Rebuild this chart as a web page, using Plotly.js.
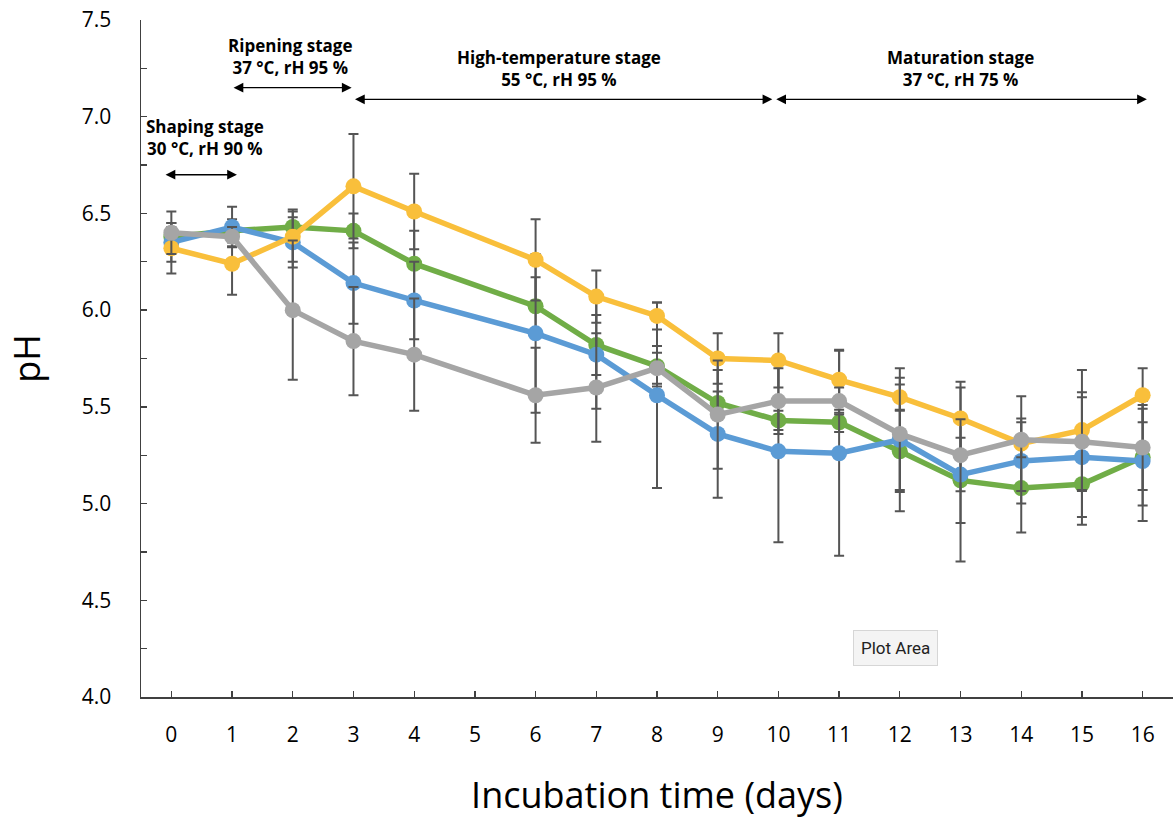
<!DOCTYPE html>
<html>
<head>
<meta charset="utf-8">
<script src="https://cdn.plot.ly/plotly-3.0.1.min.js"></script>
<style>
  html, body { margin: 0; padding: 0; background: #ffffff; }
  #chart { width: 1173px; height: 822px; }
</style>
</head>
<body>
<div id="chart"></div>
<script>
// Incubation days
const days = [0, 1, 2, 3, 4, 6, 7, 8, 9, 10, 11, 12, 13, 14, 15, 16];

// Series values (pH) and standard deviations
const greenPH  = [6.38, 6.41, 6.43, 6.41, 6.24, 6.02, 5.82, 5.71, 5.52, 5.43, 5.42, 5.27, 5.12, 5.08, 5.10, 5.24];
const greenSD  = [0.05, 0.06, 0.09, 0.09, 0.17, 0.15, 0.155, 0.105, 0.06, 0.05, 0.05, 0.21, 0.22, 0.23, 0.21, 0.25];

const bluePH   = [6.35, 6.43, 6.35, 6.14, 6.05, 5.88, 5.77, 5.56, 5.36, 5.27, 5.26, 5.33, 5.15, 5.22, 5.24, 5.22];
const blueSD   = [0.10, 0.105, 0.13, 0.21, 0.20, 0.41, 0.28, 0.48, 0.33, 0.47, 0.53, 0.37, 0.45, 0.22, 0.31, 0.31];

const yellowPH = [6.32, 6.24, 6.38, 6.64, 6.51, 6.26, 6.07, 5.97, 5.75, 5.74, 5.64, 5.55, 5.44, 5.31, 5.38, 5.56];
const yellowSD = [0.13, 0.16, 0.13, 0.27, 0.195, 0.21, 0.135, 0.07, 0.13, 0.14, 0.155, 0.065, 0.19, 0.245, 0.31, 0.14];

const grayPH   = [6.40, 6.38, 6.00, 5.84, 5.77, 5.56, 5.60, 5.70, 5.46, 5.53, 5.53, 5.36, 5.25, 5.33, 5.32, 5.29];
const graySD   = [0.11, 0.05, 0.36, 0.28, 0.29, 0.245, 0.28, 0.08, 0.28, 0.17, 0.07, 0.29, 0.186, 0.09, 0.255, 0.22];

const xTickVals = [0,1,2,3,4,5,6,7,8,9,10,11,12,13,14,15,16];

// Stage annotations
const stageLabels = [
  {text: "Shaping stage<br>30 °C, rH 90 %", x: 0.55, y: 6.89, from: -0.12, to: 1.08, ay: 6.70},
  {text: "Ripening stage<br>37 °C, rH 95 %", x: 1.97, y: 7.31, from: 1.00, to: 2.97, ay: 7.15},
  {text: "High-temperature stage<br>55 °C, rH 95 %", x: 6.38, y: 7.25, from: 3.00, to: 9.90, ay: 7.09},
  {text: "Maturation stage<br>37 °C, rH 75 %", x: 13.0, y: 7.25, from: 9.94, to: 16.07, ay: 7.09}
];

const errColor = '#555555';
function series(y, sd, color, name) {
  return {
    type: 'scatter', mode: 'lines+markers', name: name,
    x: days, y: y,
    line: {color: color, width: 5.5},
    marker: {color: color, size: 16},
    error_y: {type: 'data', array: sd, visible: true, color: errColor, thickness: 2, width: 5},
    cliponaxis: false,
    hoverinfo: 'x+y'
  };
}

const data = [
  series(greenPH, greenSD, '#70AD47', 'Series A'),
  series(bluePH, blueSD, '#5B9BD5', 'Series B'),
  series(yellowPH, yellowSD, '#F9BF3B', 'Series C'),
  series(grayPH, graySD, '#A5A5A5', 'Series D')
];

const labelFont = {family: '"Liberation Sans Narrow", "Open Sans", Arial, sans-serif', size: 17, color: '#000000'};

const annotations = [];
stageLabels.forEach(s => {
  annotations.push({
    x: s.x, y: s.y, xref: 'x', yref: 'y', text: '<b>' + s.text.replace('<br>', '</b><br><b>') + '</b>',
    showarrow: false, font: labelFont, align: 'center'
  });
  annotations.push({
    x: s.to, y: s.ay, ax: s.from, ay: s.ay, xref: 'x', yref: 'y', axref: 'x', ayref: 'y',
    text: '', showarrow: true, arrowhead: 2, startarrowhead: 2, arrowside: 'end+start',
    arrowsize: 1.5, startarrowsize: 1.5, arrowwidth: 1.3, arrowcolor: '#000000'
  });
});
annotations.push({
  x: 11.93, y: 4.253, xref: 'x', yref: 'y', text: 'Plot Area', showarrow: false,
  font: {family: 'Roboto, "Open Sans", Arial, sans-serif', size: 17, color: '#222222'},
  bgcolor: '#f4f4f4', bordercolor: '#d6d6d6', borderwidth: 1, borderpad: 7
});

const layout = {
  width: 1173, height: 822,
  margin: {l: 141, r: 0, t: 20, b: 125},
  paper_bgcolor: '#ffffff', plot_bgcolor: '#ffffff',
  showlegend: false,
  font: {family: '"Open Sans", Arial, sans-serif', color: '#000000'},
  xaxis: {
    range: [-0.5, 16.5], tickmode: 'array', tickvals: xTickVals, ticktext: xTickVals.map(String),
    ticks: 'inside', ticklen: 6, tickwidth: 1.3, tickcolor: '#404040',
    showline: true, linecolor: '#404040', linewidth: 1.5, showgrid: false, zeroline: false,
    tickfont: {family: '"Open Sans", Arial, sans-serif', size: 21, color: '#000000'},
    ticklabelstandoff: 18,
    title: {text: 'Incubation time (days)', font: {family: '"Open Sans", Arial, sans-serif', size: 36, color: '#000000'}, standoff: 36}
  },
  yaxis: {
    range: [4, 7.5], dtick: 0.5, tick0: 4, tickformat: '.1f',
    ticks: 'inside', ticklen: 6, tickwidth: 1.3, tickcolor: '#404040',
    minor: {dtick: 0.25, ticks: 'inside', ticklen: 6, tickwidth: 1.3, tickcolor: '#404040', showgrid: false},
    showline: true, linecolor: '#404040', linewidth: 1.5, showgrid: false, zeroline: false,
    tickfont: {family: '"Open Sans", Arial, sans-serif', size: 21, color: '#000000'},
    ticklabelstandoff: 24,
    title: {text: 'pH', font: {family: '"Open Sans", Arial, sans-serif', size: 36, color: '#000000'}, standoff: 30}
  },
  annotations: annotations
};

Plotly.newPlot('chart', data, layout, {displayModeBar: false, staticPlot: true});
</script>
</body>
</html>
